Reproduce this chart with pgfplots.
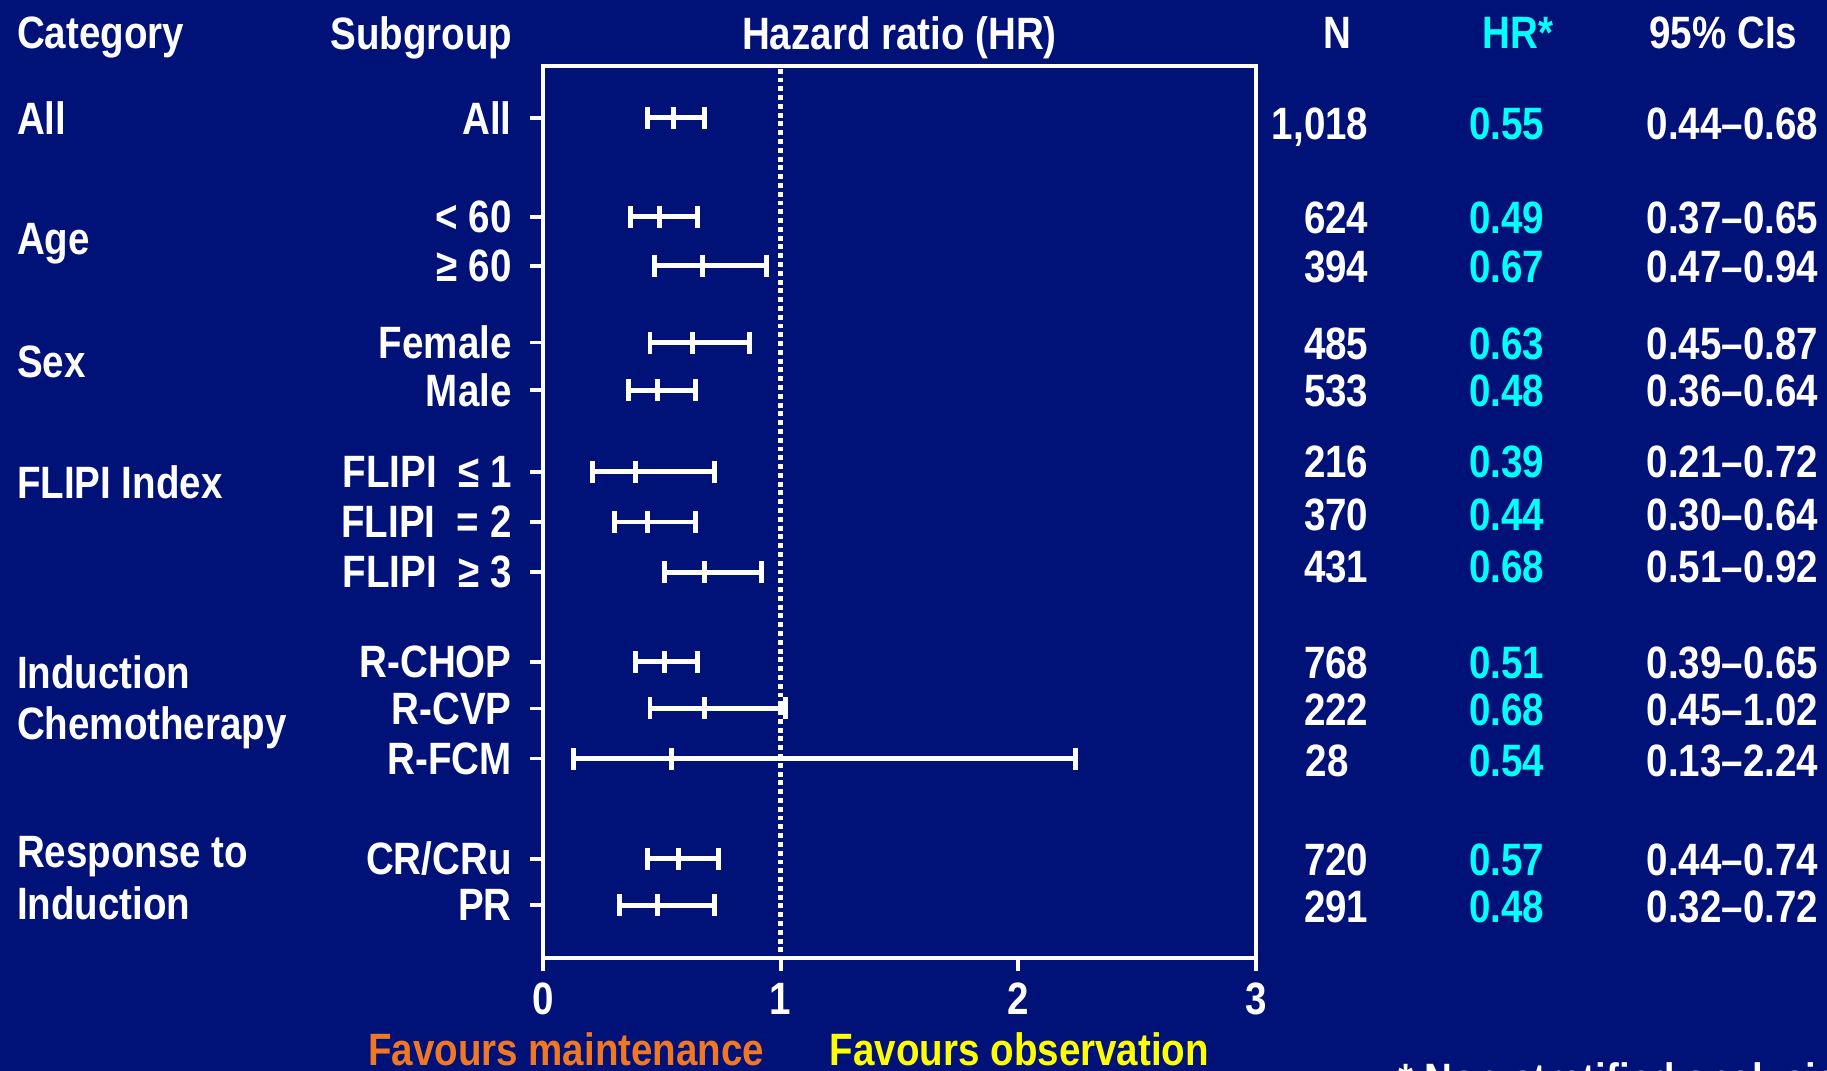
\documentclass[border=0pt]{standalone}
\usepackage{pgfplots}
\pgfplotsset{compat=1.18}
\usepackage{pgfplotstable}
\usepackage{fontspec}
\setmainfont{Liberation Sans}
\newfontfamily\lab{Liberation Sans}[FakeStretch=0.85]
\newcommand{\T}{\lab\bfseries\fontsize{12.9}{15}\selectfont}
\definecolor{bg}{RGB}{0,18,120}
\definecolor{hrc}{RGB}{0,255,255}
\definecolor{favm}{RGB}{240,120,36}
\definecolor{favo}{RGB}{255,255,0}

\pgfplotstableread{
y x lo hi
101 0.55 0.44 0.68
186 0.49 0.37 0.65
228 0.67 0.47 0.94
294 0.63 0.45 0.87
335 0.48 0.36 0.64
405 0.39 0.21 0.72
448 0.44 0.30 0.64
491 0.68 0.51 0.92
568 0.51 0.39 0.65
608 0.68 0.45 1.02
651 0.54 0.13 2.24
737 0.57 0.44 0.74
777 0.48 0.32 0.72
}\hrdata

\begin{document}
\begin{tikzpicture}
\clip (0,0) rectangle (182.7mm,107.1mm);
\fill[bg] (0,0) rectangle (182.7mm,107.1mm);
\begin{axis}[
  at={(54.3mm,11.32mm)}, anchor=south west,
  scale only axis, width=71.31mm, height=89.14mm,
  xmin=0, xmax=3, ymin=57, ymax=822, y dir=reverse,
  axis line style={white, line width=1.1pt},
  xtick={0,1,2,3}, xticklabels={0,1,2,3},
  ytick={101,186,228,294,335,405,448,491,568,608,651,737,777},
  yticklabels={All,{< 60},{≥ 60},Female,Male,{FLIPI\ \ ≤ 1},{FLIPI\ \ = 2},{FLIPI\ \ ≥ 3},R-CHOP,R-CVP,R-FCM,CR/CRu,PR},
  tick align=outside, xtick pos=bottom, ytick pos=left,
  major tick length=1.3mm,
  tick style={white, line width=1.1pt},
  ticklabel style={font=\T, text=white},
  yticklabel style={xshift=-0.6mm},
  clip=false,
]
\addplot[white, line width=1.4pt, dash pattern=on 1.4pt off 1.1pt] coordinates {(1,59) (1,822)};
\addplot[white, only marks, mark=|, mark size=1.1mm, mark options={line width=1.4pt},
  error bars/.cd, x dir=both, x explicit, error mark=|,
  error bar style={line width=1.4pt, white},
  error mark options={white, line width=1.4pt, mark size=1.1mm}]
  table[x=x, y=y, x error plus expr=\thisrow{hi}-\thisrow{x}, x error minus expr=\thisrow{x}-\thisrow{lo}] {\hrdata};
\end{axis}
\begin{scope}[x=0.11652mm, y=-0.11652mm, shift={(0,107.1mm)},
  every node/.style={font=\T, text=white, text depth=0pt, inner sep=0pt}]
  % headers
  \node[anchor=west] at (14,28) {Category};
  \node[anchor=west] at (283,28) {Subgroup};
  \node at (772,28) {Hazard ratio (HR)};
  \node at (1148,28) {N};
  \node[text=hrc] at (1303,28) {HR*};
  \node[anchor=west] at (1415,28) {95\% CIs};
  % categories
  \node[anchor=west] at (14,101) {All};
  \node[anchor=west] at (14,205) {Age};
  \node[anchor=west] at (14,310) {Sex};
  \node[anchor=west] at (14,414) {FLIPI Index};
  \node[anchor=west] at (14,577) {Induction};
  \node[anchor=west] at (14,621) {Chemotherapy};
  \node[anchor=west] at (14,731) {Response to};
  \node[anchor=west] at (14,775) {Induction};
  % N
  \node[anchor=east] at (1175,106) {1,018};
  \node[anchor=east] at (1175,187) {624};
  \node[anchor=east] at (1175,229) {394};
  \node[anchor=east] at (1175,295) {485};
  \node[anchor=east] at (1175,335) {533};
  \node[anchor=east] at (1175,396) {216};
  \node[anchor=east] at (1175,442) {370};
  \node[anchor=east] at (1175,486) {431};
  \node[anchor=east] at (1175,569) {768};
  \node[anchor=east] at (1175,609) {222};
  \node[anchor=west] at (1120,653) {28};
  \node[anchor=east] at (1175,738) {720};
  \node[anchor=east] at (1175,778) {291};
  % HR
  \foreach \yy/\v in {106/0.55,187/0.49,229/0.67,295/0.63,335/0.48,396/0.39,442/0.44,486/0.68,569/0.51,609/0.68,653/0.54,738/0.57,778/0.48}
    \node[text=hrc] at (1293,\yy) {\v};
  % CIs
  \foreach \yy/\v in {106/0.44–0.68,187/0.37–0.65,229/0.47–0.94,295/0.45–0.87,335/0.36–0.64,396/0.21–0.72,442/0.30–0.64,486/0.51–0.92,569/0.39–0.65,609/0.45–1.02,653/0.13–2.24,738/0.44–0.74,778/0.32–0.72}
    \node[anchor=east] at (1561,\yy) {\v};
  % favours
  \node[text=favm] at (486,900) {Favours maintenance};
  \node[text=favo] at (875,900) {Favours observation};
  \node[anchor=west] at (1200,926) {* Non-stratified analysis};
\end{scope}
\end{tikzpicture}
\end{document}
